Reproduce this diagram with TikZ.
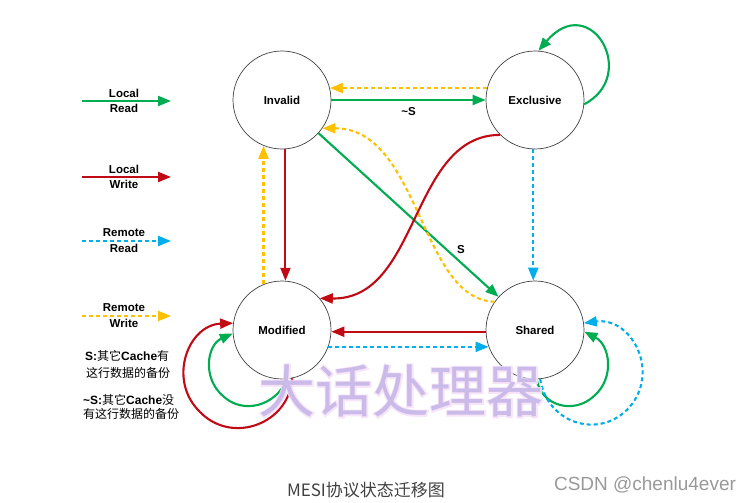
\documentclass[tikz,border=0pt]{standalone}
\usepackage{fontspec}
\setmainfont{Liberation Sans}
\newfontfamily\cjk{Noto Sans CJK SC}
\newfontfamily\cjkglow[FakeBold=5]{Noto Sans CJK SC}
\usetikzlibrary{arrows.meta}
\definecolor{lrgreen}{RGB}{0,172,80}
\definecolor{lwred}{RGB}{192,10,20}
\definecolor{rrblue}{RGB}{0,174,236}
\definecolor{rwyellow}{RGB}{255,192,0}
\definecolor{wmpurple}{RGB}{198,182,232}
\definecolor{wmglow}{RGB}{246,226,248}

\begin{document}
\begin{tikzpicture}[x=1pt,y=-1pt,
 mstate/.style={draw=black!75,line width=.7pt,circle,minimum size=98pt,inner sep=0pt,font=\bfseries\fontsize{11.5}{12}\selectfont},
 trans/.style={line width=2.1pt,-{Triangle[length=13pt,width=10pt]}},
 lread/.style={trans,lrgreen},
 lwrite/.style={trans,lwred},
 rread/.style={trans,rrblue,dash pattern=on 4pt off 3pt},
 rwrite/.style={trans,rwyellow,dash pattern=on 4pt off 3pt},
 lbl/.style={text=black,font=\bfseries\fontsize{11.5}{12}\selectfont},
 note/.style={anchor=west,inner sep=0pt,font=\fontsize{12}{14}\selectfont}]
\useasboundingbox (0,0) rectangle (753,503);
\foreach \y/\top/\bot/\sty in {101/Local/Read/lread,177/Local/Write/lwrite,241/Remote/Read/rread,316/Remote/Write/rwrite}{
 \coordinate (\sty a) at (82,\y);
 \coordinate (\sty b) at (171,\y);
 \draw[\sty] (\sty a)--(\sty b);
 \node[lbl] (\sty t) at (124,\y-8){\top};
 \node[lbl] (\sty u) at (124,\y+7){\bot};
}
\node[mstate] (inv) at (282,100){Invalid};
\node[mstate] (exc) at (535,100){Exclusive};
\node[mstate] (mod) at (282,330){Modified};
\node[mstate] (sha) at (535,330){Shared};
\draw[lread] (inv.east)--(exc.west) node[midway,below=3pt,lbl] (nots){\textasciitilde S};
\draw[rwrite] (exc.166)--(inv.14);
\draw[lread] (exc.-5) .. controls (640,75) and (590,-10) .. (exc.86);
\draw[lread] (inv)--(sha);
\node[lbl] (iss) at (461,250){S};
\draw[rwrite] (sha.145) .. controls (420,300) and (420,128) .. (inv.-35);
\draw[lwrite] (exc.-135) .. controls (410,135) and (420,300) .. (mod.40);
\draw[lwrite] (inv.-86)--(mod.86);
\draw[rwrite] (mod.112)--(inv.-112);
\draw[rread] (exc.-92)--(sha.92);
\draw[lwrite] (sha.182)--(mod.-2);
\draw[rread] (mod.-20)--(sha.200);
\draw[lread] (mod.-84) .. controls (276,406) and (243,415) .. (223,396) .. controls (202,378) and (207,345) .. (mod.184);
\draw[lwrite] (mod.-78) .. controls (289,424) and (232,445) .. (200,412) .. controls (167,380) and (188,325) .. (mod.172);
\draw[lread] (sha.-88) .. controls (541,406) and (574,415) .. (594,396) .. controls (615,378) and (610,345) .. (sha.-2);
\draw[rread] (sha.-84) .. controls (548,427) and (605,440) .. (632,404) .. controls (659,368) and (630,317) .. (sha.8);
\node[note] (n1) at (85,356){\textbf{S:}{\cjk 其它}\textbf{Cache}{\cjk 有}};
\node[note] (n2) at (86,373){\cjk 这行数据的备份};
\node[note] (n3) at (83,400){\textbf{\textasciitilde S:}{\cjk 其它}\textbf{Cache}{\cjk 没}};
\node[note] (n4) at (83,414){\cjk 有这行数据的备份};
\node[font=\fontsize{57}{57}\selectfont,text opacity=.9] (wm) at (401,391){\rlap{\cjkglow\color{wmglow}大话处理器}{\cjk\color{wmpurple}大话处理器}};
\node[font=\cjk\fontsize{17}{17}\selectfont,text=black!75] (cap) at (366,490){MESI协议状态迁移图};
\node[font=\fontsize{19}{19}\selectfont,text=black!40] (csdn) at (645,485){CSDN @chenlu4ever};
\end{tikzpicture}
\end{document}
